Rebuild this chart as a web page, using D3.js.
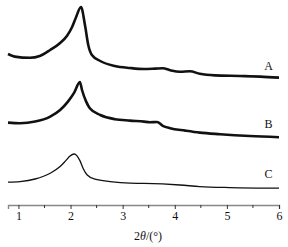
<!DOCTYPE html>
<html>
<head>
<meta charset="utf-8">
<script src="https://cdn.jsdelivr.net/npm/d3@7"></script>
<style>
  html, body { margin: 0; padding: 0; background: #fff; }
  svg { display: block; }
</style>
</head>
<body>
<div id="chart"></div>
<script>
const W = 288, H = 247;
const SERIF = '"Liberation Serif", "Times New Roman", serif';
const INK = '#111';

// 2θ positions and stacked intensities (arbitrary units, offsets included)
const thetaA = [0.80, 0.93, 1.22, 1.41, 1.61, 1.80, 1.93, 2.03, 2.10, 2.20, 2.28, 2.34, 2.41, 2.57, 2.85, 3.14, 3.41, 3.62, 3.77, 3.91, 4.10, 4.29, 4.48, 4.77, 5.25, 5.64, 6.00];
const intA   = [75.5, 74.2, 73.6, 74.5, 77.5, 81.0, 84.5, 89.0, 93.5, 99.0, 89.5, 80.0, 75.0, 72.0, 69.5, 68.5, 68.0, 68.2, 68.4, 67.4, 66.6, 66.9, 65.6, 64.8, 64.5, 64.2, 63.7];

const thetaB = [0.80, 1.03, 1.32, 1.61, 1.80, 1.95, 2.07, 2.18, 2.22, 2.30, 2.37, 2.57, 2.85, 3.14, 3.41, 3.52, 3.66, 3.77, 3.91, 4.20, 4.48, 4.87, 5.44, 6.00];
const intB   = [41.2, 40.9, 41.7, 44.2, 47.5, 51.7, 56.2, 61.5, 57.5, 51.7, 48.4, 45.0, 42.9, 42.2, 41.7, 41.4, 41.5, 39.6, 38.4, 37.2, 36.2, 35.4, 34.5, 33.9];

const thetaC = [0.80, 1.03, 1.32, 1.61, 1.80, 1.91, 1.99, 2.07, 2.12, 2.18, 2.24, 2.32, 2.47, 2.76, 3.14, 3.41, 4.10, 4.48, 5.06, 6.00];
const intC   = [11.4, 11.7, 13.0, 15.9, 19.2, 22.2, 24.5, 25.5, 24.7, 22.2, 18.4, 15.0, 12.9, 11.7, 10.9, 10.8, 10.0, 9.2, 8.7, 8.4];

const seriesNames = ['A', 'B', 'C'];
const labelLevels = [69.5, 40.5, 15.5];   // where each letter sits
const xTicks = [1, 2, 3, 4, 5, 6];
const xMinor = [1.5, 2.5, 3.5, 4.5, 5.5];

const series = [
  { name: 'A', x: thetaA, y: intA, width: 2.6 },
  { name: 'B', x: thetaB, y: intB, width: 2.6 },
  { name: 'C', x: thetaC, y: intC, width: 1.3 }
];

const x = d3.scaleLinear().domain([0.8, 6]).range([8, 279]);
const y = d3.scaleLinear().domain([0, 100]).range([205, 5]);

const svg = d3.select('#chart').append('svg')
  .attr('width', W).attr('height', H)
  .attr('viewBox', `0 0 ${W} ${H}`);

const line = d3.line()
  .x(d => x(d[0]))
  .y(d => y(d[1]))
  .curve(d3.curveMonotoneX);

// Curves
svg.selectAll('.trace')
  .data(series)
  .join('path')
  .attr('class', 'trace')
  .attr('d', s => line(s.x.map((v, i) => [v, s.y[i]])))
  .attr('fill', 'none')
  .attr('stroke', INK)
  .attr('stroke-width', s => s.width)
  .attr('stroke-linejoin', 'miter');

// Series letters
svg.selectAll('.tag')
  .data(seriesNames)
  .join('text')
  .attr('class', 'tag')
  .attr('x', x(5.8))
  .attr('y', (d, i) => y(labelLevels[i]))
  .attr('dy', '0.35em')
  .attr('text-anchor', 'middle')
  .attr('font-family', SERIF)
  .attr('font-size', 12)
  .attr('fill', INK)
  .text(d => d);

// X axis
const axisY = 205;
const gx = svg.append('g').attr('transform', `translate(0,${axisY})`);
gx.call(d3.axisBottom(x).tickValues(xTicks).tickSize(4).tickPadding(2).tickFormat(d3.format('d')));
gx.select('.domain').attr('stroke', '#888').attr('stroke-width', 1.4);
gx.selectAll('.tick line').attr('stroke', '#333');
gx.selectAll('.tick text')
  .attr('font-family', SERIF)
  .attr('font-size', 12)
  .attr('fill', INK);

gx.selectAll('.minor')
  .data(xMinor)
  .join('line')
  .attr('class', 'minor')
  .attr('x1', d => x(d)).attr('x2', d => x(d))
  .attr('y1', 0).attr('y2', 3)
  .attr('stroke', '#333');

// Axis title
const title = svg.append('text')
  .attr('x', 148)
  .attr('y', 240)
  .attr('text-anchor', 'middle')
  .attr('font-family', SERIF)
  .attr('font-size', 12)
  .attr('fill', INK);
title.append('tspan').text('2');
title.append('tspan').attr('font-style', 'italic').text('θ');
title.append('tspan').text('/(°)');
</script>
</body>
</html>
